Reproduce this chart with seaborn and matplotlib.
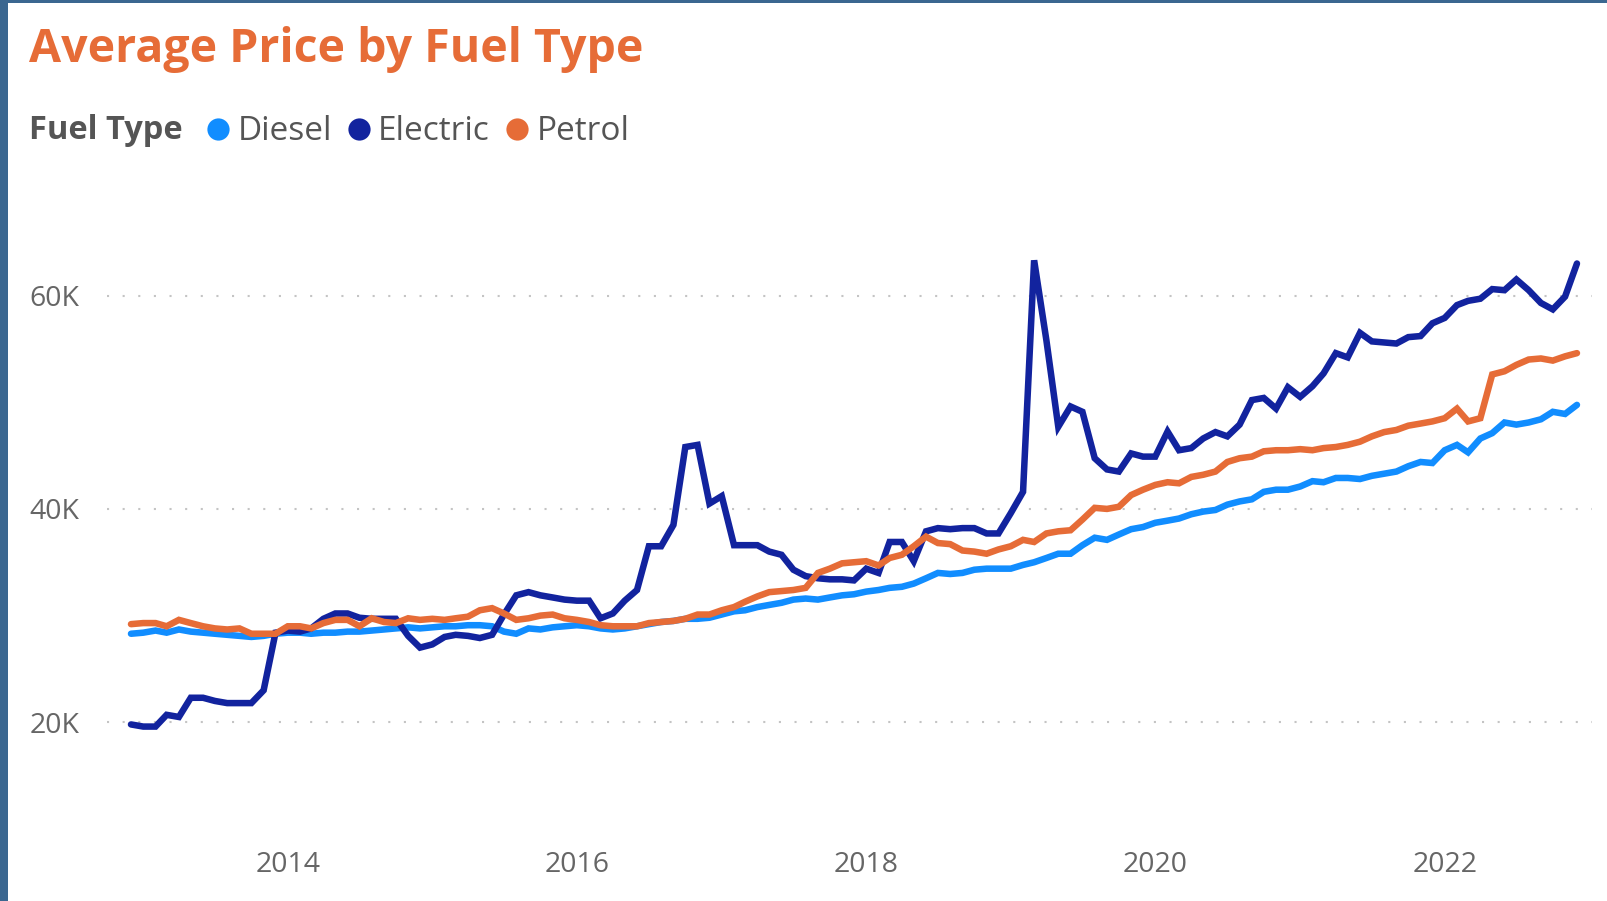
import numpy as np
import pandas as pd
import matplotlib
matplotlib.use("Agg")
import matplotlib.pyplot as plt
import matplotlib.dates as mdates
from matplotlib.lines import Line2D
from matplotlib.patches import Rectangle
from matplotlib.ticker import FuncFormatter
import seaborn as sns

# ---------------- data (average price, thousands) ----------------
months = pd.date_range("2012-12-01", "2022-12-01", freq="MS")

electric = [
    19.8, 19.6, 19.6, 20.7, 20.5, 22.3, 22.3, 22.0, 21.8, 21.8, 21.8, 23.0,
    28.4, 28.6, 28.5, 28.8, 29.7, 30.2, 30.2, 29.8, 29.7, 29.7, 29.7, 28.1,
    27.0, 27.3, 28.0, 28.2, 28.1, 27.9, 28.2, 30.1, 31.9, 32.2, 31.9, 31.7,
    31.5, 31.4, 31.4, 29.75, 30.2, 31.4, 32.4, 36.5, 36.5, 38.5, 45.8, 46.0,
    40.5, 41.2, 36.6, 36.6, 36.6, 36.0, 35.7, 34.3, 33.7, 33.5, 33.4, 33.4,
    33.3, 34.4, 34.0, 36.9, 36.9, 35.1, 37.9, 38.2, 38.1, 38.2, 38.2, 37.7,
    37.7, 39.6, 41.6, 63.3, 55.8, 47.7, 49.6, 49.1, 44.75, 43.7, 43.5, 45.2,
    44.9, 44.9, 47.25, 45.5, 45.7, 46.6, 47.2, 46.8, 47.9, 50.2, 50.4, 49.4,
    51.4, 50.5, 51.5, 52.7, 54.6, 54.2, 56.5, 55.7, 55.6, 55.5, 56.1, 56.2,
    57.4, 57.9, 59.1, 59.5, 59.7, 60.6, 60.5, 61.5, 60.5, 59.3, 58.7, 59.9, 63.0,
]

petrol = [
    29.2, 29.3, 29.3, 29.0, 29.6, 29.3, 29.0, 28.8, 28.7, 28.8, 28.3, 28.3,
    28.3, 29.0, 29.0, 28.8, 29.3, 29.6, 29.6, 29.0, 29.75, 29.4, 29.3, 29.75,
    29.6, 29.7, 29.6, 29.75, 29.9, 30.5, 30.7, 30.2, 29.6, 29.75, 30.0, 30.1,
    29.75, 29.6, 29.4, 29.1, 29.0, 29.0, 29.0, 29.3, 29.4, 29.5, 29.7, 30.1,
    30.1, 30.5, 30.8, 31.3, 31.8, 32.2, 32.3, 32.4, 32.6, 34.0, 34.4, 34.9,
    35.0, 35.1, 34.7, 35.4, 35.7, 36.5, 37.4, 36.8, 36.7, 36.1, 36.0, 35.8,
    36.2, 36.5, 37.1, 36.9, 37.7, 37.9, 38.0, 39.0, 40.1, 40.0, 40.2, 41.3,
    41.8, 42.25, 42.5, 42.4, 43.0, 43.2, 43.5, 44.4, 44.75, 44.9, 45.4, 45.5,
    45.5, 45.6, 45.5, 45.7, 45.8, 46.0, 46.3, 46.8, 47.2, 47.4, 47.8, 48.0,
    48.2, 48.5, 49.4, 48.2, 48.5, 52.6, 52.9, 53.5, 54.0, 54.1, 53.9, 54.3, 54.6,
]

diesel = [
    28.3, 28.4, 28.6, 28.4, 28.7, 28.5, 28.4, 28.3, 28.2, 28.1, 28.0, 28.1,
    28.3, 28.4, 28.4, 28.3, 28.4, 28.4, 28.5, 28.5, 28.6, 28.7, 28.8, 28.9,
    28.8, 28.9, 29.0, 29.0, 29.1, 29.1, 29.0, 28.5, 28.3, 28.8, 28.7, 28.9,
    29.0, 29.1, 29.0, 28.8, 28.7, 28.8, 29.0, 29.2, 29.4, 29.5, 29.7, 29.7,
    29.8, 30.1, 30.4, 30.5, 30.8, 31.0, 31.2, 31.5, 31.6, 31.5, 31.7, 31.9,
    32.0, 32.25, 32.4, 32.6, 32.7, 33.0, 33.5, 34.0, 33.9, 34.0, 34.3, 34.4,
    34.4, 34.4, 34.75, 35.0, 35.4, 35.8, 35.8, 36.6, 37.3, 37.1, 37.6, 38.1,
    38.3, 38.7, 38.9, 39.1, 39.5, 39.75, 39.9, 40.4, 40.7, 40.9, 41.6, 41.8,
    41.8, 42.1, 42.6, 42.5, 42.9, 42.9, 42.8, 43.1, 43.3, 43.5, 44.0, 44.4,
    44.3, 45.5, 46.0, 45.3, 46.6, 47.1, 48.1, 47.9, 48.1, 48.4, 49.1, 48.9, 49.75,
]

fuel_types = ["Diesel", "Electric", "Petrol"]
colors = ["#118DFF", "#12239E", "#E66C37"]
y_ticks = [20000, 40000, 60000]
x_tick_years = [2014, 2016, 2018, 2020, 2022]

# ---------------- dataframe ----------------
series = {"Diesel": diesel, "Electric": electric, "Petrol": petrol}
df = pd.concat(
    [pd.DataFrame({"Month": months, "Price": np.array(v) * 1000.0, "Fuel Type": k})
     for k, v in series.items()],
    ignore_index=True,
)

# ---------------- figure ----------------
sns.set_theme(style="white")
plt.rcParams["font.family"] = ["Open Sans", "DejaVu Sans"]

W, H = 1608, 901
fig = plt.figure(figsize=(W / 100, H / 100), dpi=100, facecolor="#3B6790")
# white card
fig.patches.append(Rectangle((8 / W, 0), 1 - 8 / W, 1 - 3 / H, transform=fig.transFigure,
                             facecolor="white", edgecolor="none", zorder=-10))

ax = fig.add_axes([107 / W, 1 - 829 / H, (1592 - 107) / W, (829 - 231.5) / H])
ax.set_facecolor("none")
ax.set_zorder(5)

sns.lineplot(data=df, x="Month", y="Price", hue="Fuel Type", hue_order=fuel_types,
             palette=colors, linewidth=4.7, legend=False, ax=ax,
             solid_joinstyle="miter", solid_capstyle="round")

x0 = mdates.date2num(months[0])
x1 = mdates.date2num(months[-1])
ax.set_xlim(x0 - 60.6, x1 + 38)
ax.set_ylim(10000, 66000)

ax.set_yticks(y_ticks)
ax.yaxis.set_major_formatter(FuncFormatter(lambda v, p: f"{int(v/1000)}K"))
ax.set_xticks([mdates.date2num(pd.Timestamp(f"{y}-01-01")) for y in x_tick_years])
ax.set_xticklabels([str(y) for y in x_tick_years])

ax.grid(axis="y", color="#C4C4C4", linewidth=1.5, linestyle=(0, (1, 6.5)))
ax.grid(axis="x", visible=False)
for s in ax.spines.values():
    s.set_visible(False)
ax.tick_params(axis="both", length=0, labelsize=20.5, labelcolor="#666666")
ax.tick_params(axis="y", pad=20)
ax.tick_params(axis="x", pad=16)
ax.set_xlabel("")
ax.set_ylabel("")

# title
fig.text(29 / W, 1 - 62 / H, "Average Price by Fuel Type", color="#E66C37",
         fontsize=33.5, fontweight="bold", ha="left", va="baseline")

# legend
fig.text(29 / W, 1 - 139 / H, "Fuel Type", color="#555555",
         fontsize=23.5, fontweight="bold", ha="left", va="baseline")
handles = [Line2D([], [], marker="o", linestyle="", markersize=16, color=c,
                  markeredgewidth=0) for c in colors]
fig.legend(handles, fuel_types, loc="center left", bbox_to_anchor=(207 / W, 1 - 132 / H),
           ncol=3, frameon=False, fontsize=24, handlelength=0.66, handletextpad=0.25,
           columnspacing=0.48, borderpad=0, borderaxespad=0, labelcolor="#555555")

fig.savefig("out.png", dpi=100, facecolor=fig.get_facecolor())
